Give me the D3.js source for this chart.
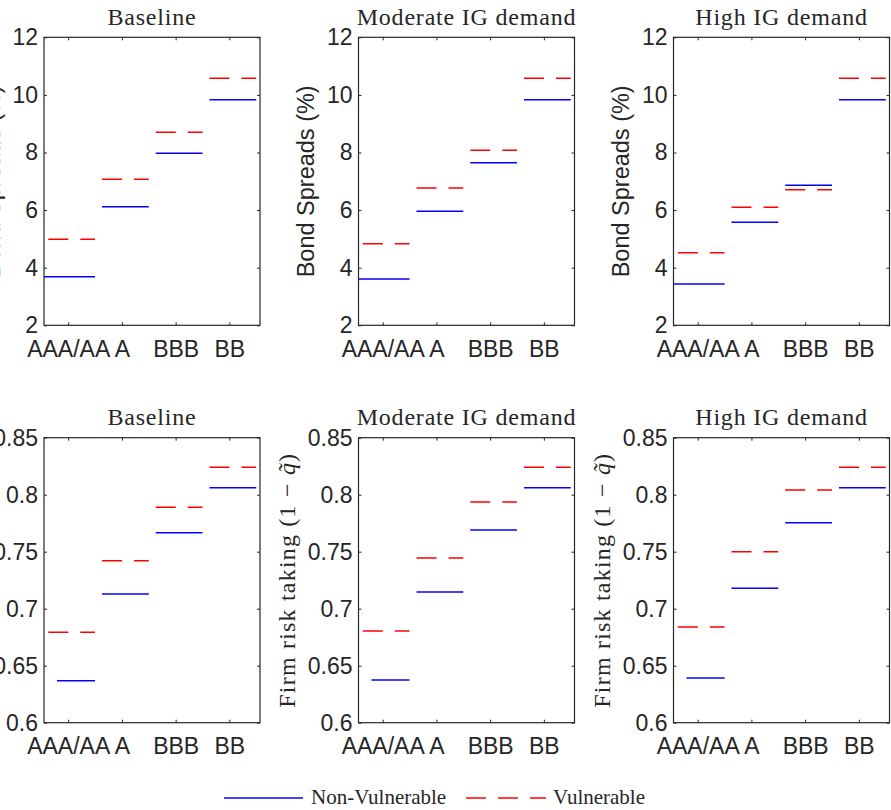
<!DOCTYPE html>
<html>
<head>
<meta charset="utf-8">
<script src="https://cdn.jsdelivr.net/npm/d3@7"></script>
<style>
  body { margin: 0; background: #fff; }
  text { fill: #262626; }
</style>
</head>
<body>
<svg id="chart" width="891" height="810"></svg>
<script>
// Ratings on the x axis, one panel column per scenario
const ratings = ["AAA/AA", "A", "BBB", "BB"];
const scenarios = ["Baseline", "Moderate IG demand", "High IG demand"];

// Top row: bond spreads (%)
const spreadNonVul = [
  [3.69, 6.12, 7.97, 9.83],
  [3.61, 5.96, 7.64, 9.83],
  [3.43, 5.58, 6.86, 9.83]
];
const spreadVul = [
  [4.99, 7.07, 8.70, 10.58],
  [4.83, 6.77, 8.08, 10.58],
  [4.52, 6.10, 6.71, 10.58]
];
const spreadTicks = [2, 4, 6, 8, 10, 12];

// Bottom row: firm risk taking (1 - q~)
const riskNonVul = [
  [0.6368, 0.7129, 0.7667, 0.8061],
  [0.6374, 0.7146, 0.7690, 0.8061],
  [0.6392, 0.7179, 0.7754, 0.8061]
];
const riskVul = [
  [0.6793, 0.7421, 0.7889, 0.8240],
  [0.6804, 0.7444, 0.7936, 0.8240],
  [0.6839, 0.7500, 0.8041, 0.8240]
];
const riskTicks = [0.6, 0.65, 0.7, 0.75, 0.8, 0.85];

const svg = d3.select("#chart");

// panel geometry
const colLeft = [44, 358.5, 673.5];
const panelW = 216;
const rows = [
  { top: 37.3, h: 288, domain: [2, 12], ticks: spreadTicks,
    nonVul: spreadNonVul, vul: spreadVul, blueFirst: 0.55, label: "spread" },
  { top: 437.7, h: 285, domain: [0.6, 0.85], ticks: riskTicks,
    nonVul: riskNonVul, vul: riskVul, blueFirst: 0.79, label: "risk" }
];

const sans = "'Liberation Sans', Helvetica, Arial, sans-serif";
const serif = "'Liberation Serif', 'Times New Roman', serif";

rows.forEach(row => {
  scenarios.forEach((title, c) => {
    const g = svg.append("g").attr("transform", `translate(${colLeft[c]},${row.top})`);
    const x = d3.scaleLinear().domain([0.55, 4.57]).range([0, panelW]);
    const y = d3.scaleLinear().domain(row.domain).range([row.h, 0]);

    // step segments for each rating
    const seg = (vals, firstLo) => vals.map((v, i) => ({
      x0: i === 0 ? firstLo : i + 1 - 0.37,
      x1: i + 1 + 0.5,
      v
    }));

    g.selectAll("line.nv").data(seg(row.nonVul[c], row.blueFirst)).enter()
      .append("line").attr("class", "nv")
      .attr("x1", d => x(d.x0)).attr("x2", d => x(d.x1))
      .attr("y1", d => y(d.v)).attr("y2", d => y(d.v))
      .attr("stroke", "#0000ff").attr("stroke-width", 1.5);

    g.selectAll("line.vu").data(seg(row.vul[c], 0.63)).enter()
      .append("line").attr("class", "vu")
      .attr("x1", d => x(d.x0)).attr("x2", d => x(d.x1))
      .attr("y1", d => y(d.v)).attr("y2", d => y(d.v))
      .attr("stroke", "#ff0000").attr("stroke-width", 1.5)
      .attr("stroke-dasharray", "20,12");

    // axes: inward ticks on all four sides
    const styleAxis = sel => {
      sel.select(".domain").remove();
      sel.selectAll(".tick line").attr("stroke", "#262626");
      sel.selectAll(".tick text")
        .style("font-family", sans).style("font-size", "23px").attr("fill", "#262626");
    };
    g.append("g")
      .call(d3.axisLeft(y).tickValues(row.ticks).tickSize(-3).tickPadding(6).tickFormat(d => String(d)))
      .call(styleAxis);
    g.append("g").attr("transform", `translate(${panelW},0)`)
      .call(d3.axisRight(y).tickValues(row.ticks).tickSize(-3).tickFormat(""))
      .call(styleAxis);
    g.append("g").attr("transform", `translate(0,${row.h})`)
      .call(d3.axisBottom(x).tickValues([1, 2, 3, 4]).tickSize(-3).tickPadding(15)
        .tickFormat(d => ratings[d - 1]))
      .call(styleAxis);
    g.append("g")
      .call(d3.axisTop(x).tickValues([1, 2, 3, 4]).tickSize(-3).tickFormat(""))
      .call(styleAxis);

    g.append("rect")
      .attr("width", panelW).attr("height", row.h)
      .attr("fill", "none").attr("stroke", "#262626").attr("stroke-width", 1.2);

    // title
    g.append("text")
      .attr("x", panelW / 2).attr("y", -12.5)
      .attr("text-anchor", "middle")
      .style("font-family", serif).style("font-size", "24px")
      .style("letter-spacing", "0.8px").attr("fill", "#000")
      .text(title);

    // y label
    if (row.label === "spread") {
      g.append("text")
        .attr("transform", `translate(-44.5,${row.h / 2}) rotate(-90)`)
        .attr("text-anchor", "middle")
        .style("font-family", sans).style("font-size", "23.5px")
        .text("Bond Spreads (%)");
    } else {
      const t = g.append("text")
        .attr("transform", `translate(-64,${row.h / 2}) rotate(-90)`)
        .attr("text-anchor", "middle")
        .style("font-family", serif).style("font-size", "24px")
        .style("letter-spacing", "1.2px").attr("fill", "#000");
      t.append("tspan").text("Firm risk taking (1 \u2212 ");
      t.append("tspan").style("font-style", "italic").text("q\u0303");
      t.append("tspan").text(")");
    }
  });
});

// legend
const legend = svg.append("g").attr("transform", "translate(0,798)");
const legendItems = [
  { name: "Non-Vulnerable", color: "#0000ff", dash: null, x0: 224, x1: 303, tx: 311 },
  { name: "Vulnerable", color: "#ff0000", dash: "20,12", x0: 466, x1: 546, tx: 553 }
];
legendItems.forEach(d => {
  legend.append("line")
    .attr("x1", d.x0).attr("x2", d.x1)
    .attr("stroke", d.color).attr("stroke-width", 1.5)
    .attr("stroke-dasharray", d.dash);
  legend.append("text")
    .attr("x", d.tx).attr("y", 6)
    .style("font-family", serif).style("font-size", "21px").attr("fill", "#000")
    .text(d.name);
});
</script>
</body>
</html>
